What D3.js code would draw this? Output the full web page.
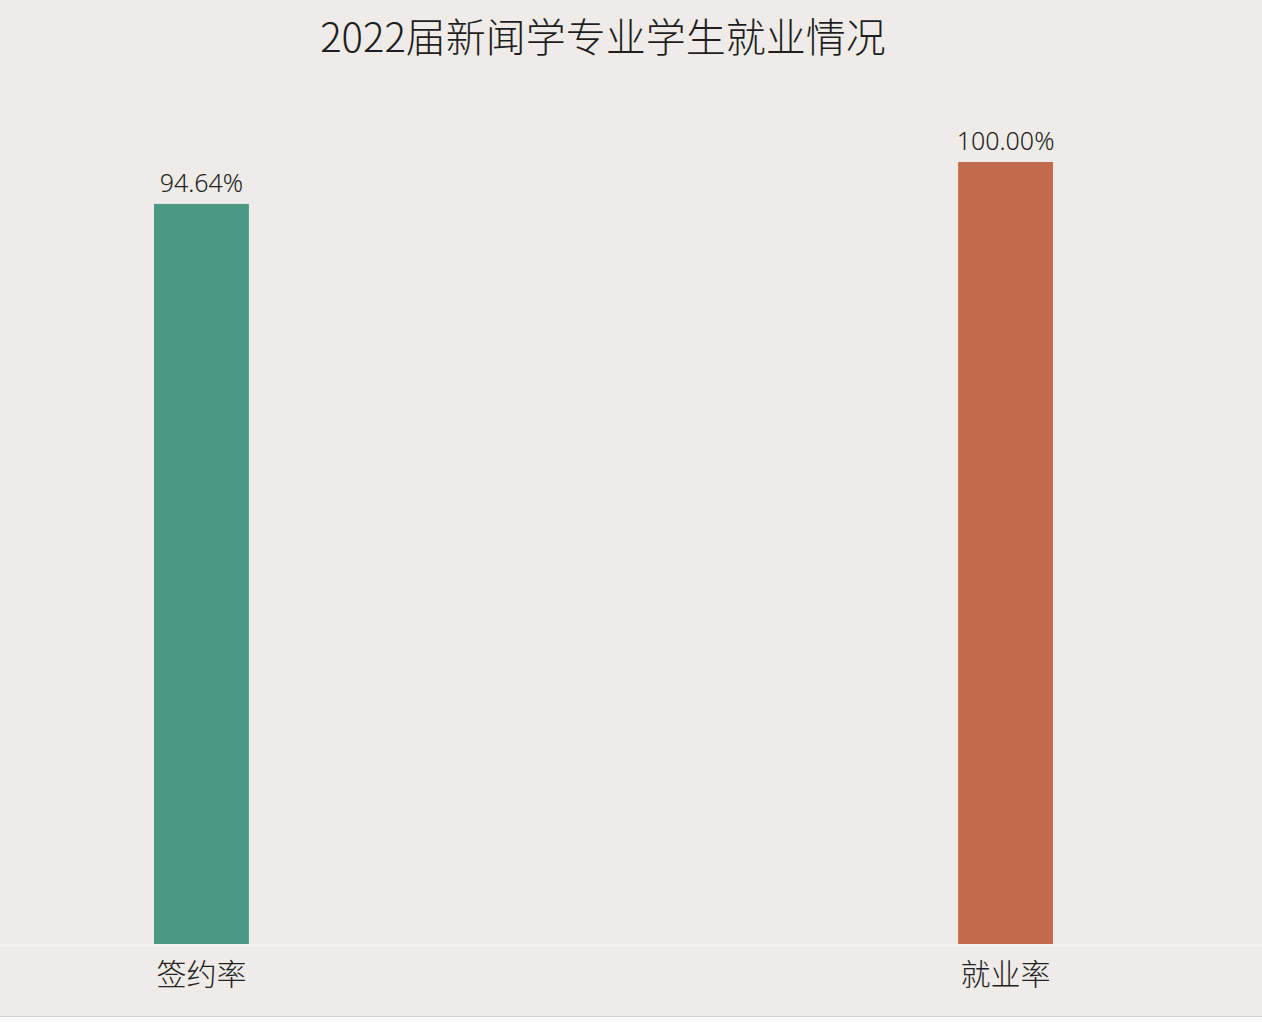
<!DOCTYPE html>
<html>
<head>
<meta charset="utf-8">
<script src="https://cdn.jsdelivr.net/npm/d3@7"></script>
<style>
  html, body { margin: 0; padding: 0; background: #efebe8; }
  svg { display: block; }
</style>
</head>
<body>
<div id="chart"></div>
<script>
const w = 1262
const h = 1022

const title = '2022届新闻学专业学生就业情况'
const categories = ['签约率', '就业率']
const values = [94.64, 100.00]
const colors = ['#4b9885', '#c26b4c']

const svg = d3.select('#chart')
    .append('svg')
    .attr('width', w)
    .attr('height', h)

svg.append('rect')
    .attr('width', w)
    .attr('height', h)
    .attr('fill', '#efebe8')

// faint bottom border like the screenshot frame
svg.append('rect')
    .attr('x', 0)
    .attr('y', 1017)
    .attr('width', w)
    .attr('height', 5)
    .attr('fill', '#fafafa')
svg.append('line')
    .attr('x1', 0).attr('x2', w)
    .attr('y1', 1016.5).attr('y2', 1016.5)
    .attr('stroke', '#d6d3d0')

const xScale = d3.scaleBand()
    .domain(categories)
    .range([154, 1053])
    .paddingInner(0.882)
    .paddingOuter(0)

const yScale = d3.scaleLinear()
    .domain([0, 100])
    .range([944, 162])

svg.append('line')
    .attr('x1', 0).attr('x2', w)
    .attr('y1', 945.5).attr('y2', 945.5)
    .attr('stroke', '#f6f4f2')
    .attr('stroke-width', 2)

svg.selectAll('rect.bar')
    .data(values)
    .enter()
    .append('rect')
    .attr('class', 'bar')
    .attr('x', (d, i) => xScale(categories[i]))
    .attr('y', d => yScale(d))
    .attr('width', xScale.bandwidth())
    .attr('height', d => yScale(0) - yScale(d))
    .attr('fill', (d, i) => colors[i])

svg.selectAll('text.value')
    .data(values)
    .enter()
    .append('text')
    .attr('class', 'value')
    .attr('x', (d, i) => xScale(categories[i]) + xScale.bandwidth() / 2)
    .attr('y', d => yScale(d) - 12)
    .attr('text-anchor', 'middle')
    .attr('font-family', '"Noto Sans", "Noto Sans CJK SC", sans-serif')
    .attr('font-size', 25)
    .attr('font-weight', 300)
    .attr('fill', '#222')
    .text(d => d.toFixed(2) + '%')

const xAxis = d3.axisBottom(xScale).tickSize(0).tickPadding(20)

svg.append('g')
    .attr('transform', 'translate(0, 944)')
    .call(xAxis)
    .call(g => g.select('.domain').remove())
    .selectAll('text')
    .attr('font-family', '"Noto Sans CJK SC", sans-serif')
    .attr('font-size', 30)
    .attr('font-weight', 300)
    .attr('fill', '#222')

svg.append('text')
    .attr('x', 603)
    .attr('y', 52)
    .attr('text-anchor', 'middle')
    .attr('font-family', '"Noto Sans CJK SC", sans-serif')
    .attr('font-size', 40)
    .attr('font-weight', 300)
    .attr('fill', '#1e1e1e')
    .text(title)
</script>
</body>
</html>
